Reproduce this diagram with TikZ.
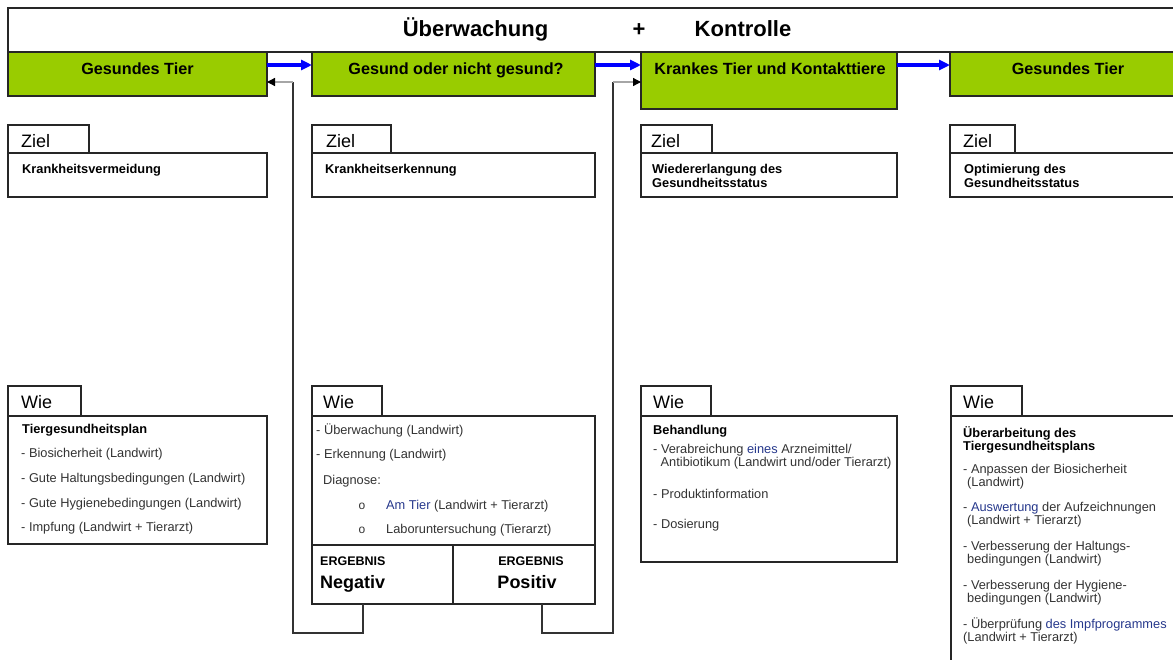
\documentclass[tikz,border=0pt]{standalone}
\usepackage{fontspec}
\setmainfont{Liberation Sans}
\usetikzlibrary{arrows.meta,calc}
\definecolor{leaf}{RGB}{153,204,0}
\definecolor{navy}{RGB}{38,56,140}
\definecolor{ink}{RGB}{51,51,51}
\definecolor{flowblue}{RGB}{0,0,255}

\begin{document}
\begin{tikzpicture}[x=1pt,y=-1pt,
  frame/.style={draw=black!85, line width=1.1pt, fill=white, inner sep=0pt, outer sep=0pt, anchor=north west},
  greenframe/.style={frame, fill=leaf},
  headtxt/.style={font=\fontsize{22}{26}\selectfont\bfseries, anchor=base, inner sep=0pt},
  stagetxt/.style={font=\fontsize{16.2}{19}\selectfont\bfseries, anchor=base, inner sep=0pt},
  tabtxt/.style={font=\fontsize{18}{21}\selectfont, anchor=base west, inner sep=0pt},
  boldtxt/.style={font=\fontsize{12.8}{14}\selectfont\bfseries, anchor=base west, inner sep=0pt},
  itemtxt/.style={font=\fontsize{12.8}{14}\selectfont, text=ink, anchor=base west, inner sep=0pt},
  bullettxt/.style={itemtxt, font=\fontsize{12}{14}\selectfont},
  restxt/.style={font=\fontsize{12.5}{14}\selectfont\bfseries, inner sep=0pt},
  resbig/.style={font=\fontsize{18}{21}\selectfont\bfseries, inner sep=0pt},
  flow/.style={draw=flowblue, line width=3.2pt, -{Triangle[length=11pt,width=10pt]}},
  back/.style={draw=black!80, line width=1.2pt},
  backtip/.style={draw=black!35, line width=1.3pt, -{Triangle[length=8pt,width=8pt,color=black]}},
]
\useasboundingbox (0,0) rectangle (1173,659);
\clip (0,0) rectangle (1173,659);
\fill[white] (0,0) rectangle (1173,659);

% title bar
\node[frame, minimum width=1200pt, minimum height=44pt] (header) at (8,8) {};
\node[headtxt] (hw) at (475.5,36) {Überwachung};
\node[headtxt] (hplus) at (639,36) {+};
\node[headtxt] (hk) at (743,36) {Kontrolle};

% stages
\node[greenframe, minimum width=259pt, minimum height=44pt] (g1) at (8,52) {};
\node[greenframe, minimum width=283pt, minimum height=44pt] (g2) at (312,52) {};
\node[greenframe, minimum width=256pt, minimum height=57pt] (g3) at (641,52) {};
\node[greenframe, minimum width=240pt, minimum height=44pt] (g4) at (950,52) {};
\node[stagetxt] (g1t) at (137.5,74) {Gesundes Tier};
\node[stagetxt] (g2t) at (456,74) {Gesund oder nicht gesund?};
\node[stagetxt] (g3t) at (770,74) {Krankes Tier und Kontakttiere};
\node[stagetxt] (g4t) at (1068,74) {Gesundes Tier};

% Ziel boxes
\node[frame, minimum width=81pt, minimum height=28pt] (zt1) at (8,125) {};
\node[frame, minimum width=79pt, minimum height=28pt] (zt2) at (312,125) {};
\node[frame, minimum width=71pt, minimum height=28pt] (zt3) at (641,125) {};
\node[frame, minimum width=65pt, minimum height=28pt] (zt4) at (950,125) {};
\node[frame, minimum width=259pt, minimum height=44pt] (zb1) at (8,153) {};
\node[frame, minimum width=283pt, minimum height=44pt] (zb2) at (312,153) {};
\node[frame, minimum width=256pt, minimum height=44pt] (zb3) at (641,153) {};
\node[frame, minimum width=240pt, minimum height=44pt] (zb4) at (950,153) {};
\node[tabtxt] (zl1) at (21,147) {Ziel};
\node[tabtxt] (zl2) at (326,147) {Ziel};
\node[tabtxt] (zl3) at (651,147) {Ziel};
\node[tabtxt] (zl4) at (963,147) {Ziel};
\node[boldtxt] (z1a) at (22,173) {Krankheitsvermeidung};
\node[boldtxt] (z2a) at (325,173) {Krankheitserkennung};
\node[boldtxt] (z3a) at (652,173) {Wiedererlangung des};
\node[boldtxt] (z3b) at (652,187) {Gesundheitsstatus};
\node[boldtxt] (z4a) at (964,173) {Optimierung des};
\node[boldtxt] (z4b) at (964,187) {Gesundheitsstatus};

% Wie boxes
\node[frame, minimum width=73pt, minimum height=30pt] (wt1) at (8,386) {};
\node[frame, minimum width=70pt, minimum height=30pt] (wt2) at (312,386) {};
\node[frame, minimum width=70pt, minimum height=30pt] (wt3) at (641,386) {};
\node[frame, minimum width=71pt, minimum height=30pt] (wt4) at (951,386) {};
\node[frame, minimum width=259pt, minimum height=128pt] (wb1) at (8,416) {};
\node[frame, minimum width=283pt, minimum height=129pt] (wb2) at (312,416) {};
\node[frame, minimum width=141pt, minimum height=59pt] (rn) at (312,545) {};
\node[frame, minimum width=142pt, minimum height=59pt] (rp) at (453,545) {};
\node[frame, minimum width=256pt, minimum height=146pt] (wb3) at (641,416) {};
\node[frame, minimum width=240pt, minimum height=260pt] (wb4) at (951,416) {};
\node[tabtxt] (wl1) at (21,408.5) {Wie};
\node[tabtxt] (wl2) at (323,408.5) {Wie};
\node[tabtxt] (wl3) at (653,408.5) {Wie};
\node[tabtxt] (wl4) at (963,408.5) {Wie};

% prevention
\node[boldtxt] (w1a) at (22,433) {Tiergesundheitsplan};
\node[itemtxt] (w1b) at (21,457) {- Biosicherheit (Landwirt)};
\node[itemtxt] (w1c) at (21,482) {- Gute Haltungsbedingungen (Landwirt)};
\node[itemtxt] (w1d) at (21,507) {- Gute Hygienebedingungen (Landwirt)};
\node[itemtxt] (w1e) at (21,531) {- Impfung (Landwirt + Tierarzt)};

% detection
\node[itemtxt] (w2a) at (316,434.5) {- Überwachung (Landwirt)};
\node[itemtxt] (w2b) at (316,458.5) {- Erkennung (Landwirt)};
\node[itemtxt] (w2c) at (323,484.5) {Diagnose:};
\node[bullettxt] (w2d) at (358.5,509.5) {o};
\node[itemtxt] (w2e) at (386,509.5) {{\color{navy}Am Tier} (Landwirt + Tierarzt)};
\node[bullettxt] (w2f) at (358.5,533.5) {o};
\node[itemtxt] (w2g) at (386,533.5) {Laboruntersuchung (Tierarzt)};
\node[restxt, anchor=base west] (rnl) at (320,565) {ERGEBNIS};
\node[resbig, anchor=base west] (rnv) at (320,588) {Negativ};
\node[restxt, anchor=base] (rpl) at (531,565) {ERGEBNIS};
\node[resbig, anchor=base] (rpv) at (527,588) {Positiv};

% treatment
\node[boldtxt] (w3a) at (653,434.5) {Behandlung};
\node[itemtxt] (w3b) at (653,453) {- Verabreichung {\color{navy}eines} Arzneimittel/};
\node[itemtxt] (w3c) at (660.5,466) {Antibiotikum (Landwirt und/oder Tierarzt)};
\node[itemtxt] (w3d) at (653,498) {- Produktinformation};
\node[itemtxt] (w3e) at (653,528.5) {- Dosierung};

% review
\node[boldtxt] (w4a) at (963,437.5) {Überarbeitung des};
\node[boldtxt] (w4b) at (963,450) {Tiergesundheitsplans};
\node[itemtxt] (w4c) at (963,473) {- Anpassen der Biosicherheit};
\node[itemtxt] (w4d) at (967,486) {(Landwirt)};
\node[itemtxt] (w4e) at (963,511) {- {\color{navy}Auswertung} der Aufzeichnungen};
\node[itemtxt] (w4f) at (967,524) {(Landwirt + Tierarzt)};
\node[itemtxt] (w4g) at (963,550) {- Verbesserung der Haltungs-};
\node[itemtxt] (w4h) at (967,563) {bedingungen (Landwirt)};
\node[itemtxt] (w4i) at (963,589) {- Verbesserung der Hygiene-};
\node[itemtxt] (w4j) at (967,602) {bedingungen (Landwirt)};
\node[itemtxt] (w4k) at (963,628) {- Überprüfung {\color{navy}des Impfprogrammes}};
\node[itemtxt] (w4l) at (963,641) {(Landwirt + Tierarzt)};

% forward flow
\draw[flow] ($(g1.north east)+(0,13)$) -- ($(g2.north west)+(0,13)$);
\draw[flow] ($(g2.north east)+(0,13)$) -- ($(g3.north west)+(0,13)$);
\draw[flow] ($(g3.north east)+(0,13)$) -- ($(g4.north west)+(0,13)$);

% feedback from the test results
\coordinate (negdrop) at ($(rn.south west)+(51,0)$);
\coordinate (leftrise) at (293,82);
\draw[back] (negdrop) -- ++(0,29) -| (leftrise);
\draw[backtip] (leftrise) -- (g1.east |- leftrise);

\coordinate (posdrop) at ($(rp.south west)+(89,0)$);
\coordinate (rightrise) at (613,82);
\draw[back] (posdrop) -- ++(0,29) -| (rightrise);
\draw[backtip] (rightrise) -- (g3.west |- rightrise);
\end{tikzpicture}
\end{document}
